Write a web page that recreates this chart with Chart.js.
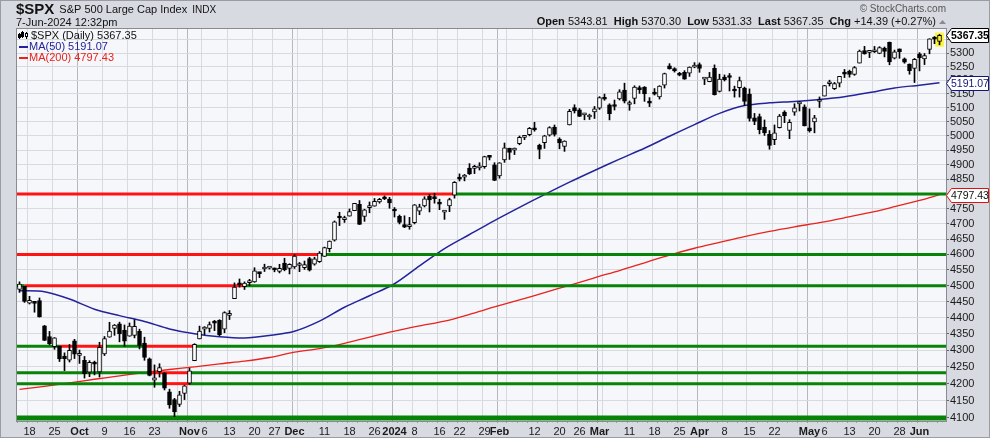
<!DOCTYPE html>
<html><head><meta charset="utf-8">
<script src="https://cdn.jsdelivr.net/npm/chart.js@4.4.1/dist/chart.umd.min.js"></script>
<style>html,body{margin:0;padding:0;background:#d8dae1;}canvas{display:block;}</style>
</head><body>
<canvas id="c" width="990" height="438"></canvas>
<script>
// ---------------- DATA ----------------
const dates = [
'2023-09-14','2023-09-15','2023-09-18','2023-09-19','2023-09-20','2023-09-21','2023-09-22','2023-09-25','2023-09-26','2023-09-27','2023-09-28','2023-09-29',
'2023-10-02','2023-10-03','2023-10-04','2023-10-05','2023-10-06','2023-10-09','2023-10-10','2023-10-11','2023-10-12','2023-10-13','2023-10-16','2023-10-17','2023-10-18','2023-10-19','2023-10-20','2023-10-23','2023-10-24','2023-10-25','2023-10-26','2023-10-27','2023-10-30','2023-10-31',
'2023-11-01','2023-11-02','2023-11-03','2023-11-06','2023-11-07','2023-11-08','2023-11-09','2023-11-10','2023-11-13','2023-11-14','2023-11-15','2023-11-16','2023-11-17','2023-11-20','2023-11-21','2023-11-22','2023-11-24','2023-11-27','2023-11-28','2023-11-29','2023-11-30',
'2023-12-01','2023-12-04','2023-12-05','2023-12-06','2023-12-07','2023-12-08','2023-12-11','2023-12-12','2023-12-13','2023-12-14','2023-12-15','2023-12-18','2023-12-19','2023-12-20','2023-12-21','2023-12-22','2023-12-26','2023-12-27','2023-12-28','2023-12-29',
'2024-01-02','2024-01-03','2024-01-04','2024-01-05','2024-01-08','2024-01-09','2024-01-10','2024-01-11','2024-01-12','2024-01-16','2024-01-17','2024-01-18','2024-01-19','2024-01-22','2024-01-23','2024-01-24','2024-01-25','2024-01-26','2024-01-29','2024-01-30','2024-01-31',
'2024-02-01','2024-02-02','2024-02-05','2024-02-06','2024-02-07','2024-02-08','2024-02-09','2024-02-12','2024-02-13','2024-02-14','2024-02-15','2024-02-16','2024-02-20','2024-02-21','2024-02-22','2024-02-23','2024-02-26','2024-02-27','2024-02-28','2024-02-29',
'2024-03-01','2024-03-04','2024-03-05','2024-03-06','2024-03-07','2024-03-08','2024-03-11','2024-03-12','2024-03-13','2024-03-14','2024-03-15','2024-03-18','2024-03-19','2024-03-20','2024-03-21','2024-03-22','2024-03-25','2024-03-26','2024-03-27','2024-03-28',
'2024-04-01','2024-04-02','2024-04-03','2024-04-04','2024-04-05','2024-04-08','2024-04-09','2024-04-10','2024-04-11','2024-04-12','2024-04-15','2024-04-16','2024-04-17','2024-04-18','2024-04-19','2024-04-22','2024-04-23','2024-04-24','2024-04-25','2024-04-26','2024-04-29','2024-04-30',
'2024-05-01','2024-05-02','2024-05-03','2024-05-06','2024-05-07','2024-05-08','2024-05-09','2024-05-10','2024-05-13','2024-05-14','2024-05-15','2024-05-16','2024-05-17','2024-05-20','2024-05-21','2024-05-22','2024-05-23','2024-05-24','2024-05-28','2024-05-29','2024-05-30','2024-05-31',
'2024-06-03','2024-06-04','2024-06-05','2024-06-06','2024-06-07'];

const opens = [
4487.78,4497.98,4445.13,4445.41,4452.81,4374.36,4341.74,4310.62,4312.88,4282.63,4269.65,4328.18,
4284.52,4269.75,4233.83,4259.31,4234.79,4289.02,4339.75,4366.59,4380.94,4360.49,4342.37,4345.23,4357.35,4321.36,4273.85,4210.40,4235.79,4232.42,4175.99,4152.93,4139.39,4171.33,
4201.27,4268.26,4334.23,4364.27,4366.21,4384.37,4391.41,4364.15,4406.66,4458.97,4505.30,4497.08,4509.55,4511.70,4538.77,4553.04,4555.84,4554.86,4545.55,4571.84,4554.87,
4559.43,4564.37,4557.25,4586.23,4568.84,4576.20,4593.39,4618.30,4646.20,4721.04,4714.23,4725.58,4743.72,4764.73,4724.29,4753.92,4758.86,4773.45,4786.44,4782.88,
4745.20,4725.07,4697.42,4690.57,4703.70,4741.93,4759.94,4792.13,4791.18,4772.35,4739.13,4760.10,4796.28,4853.42,4856.80,4888.56,4886.66,4888.91,4892.95,4925.89,4899.19,
4861.11,4916.06,4957.19,4950.16,4973.05,4995.16,5004.17,5026.83,4967.94,4976.44,5003.14,5031.13,4989.32,4963.03,5038.83,5100.92,5093.00,5074.60,5067.20,5085.36,
5098.51,5130.99,5110.52,5108.03,5132.38,5164.46,5111.96,5134.30,5173.49,5175.14,5123.31,5154.77,5139.09,5181.69,5253.43,5242.48,5219.52,5228.85,5226.31,5248.03,
5257.97,5204.29,5194.37,5244.05,5158.95,5211.37,5217.03,5167.88,5172.95,5171.51,5149.67,5064.59,5068.97,5031.52,5005.44,4987.33,5028.85,5084.86,5019.88,5084.65,5114.13,5103.78,
5029.03,5049.32,5122.78,5142.42,5187.20,5168.98,5189.03,5225.49,5233.08,5221.10,5263.26,5310.07,5303.10,5305.35,5298.69,5319.28,5340.26,5281.45,5315.91,5278.73,5259.77,5243.21,
5297.15,5278.24,5314.48,5357.80,5343.81];

const highs = [
4511.99,4497.98,4466.36,4449.85,4461.03,4375.70,4357.40,4338.51,4313.01,4292.07,4317.27,4333.15,
4300.58,4281.15,4268.50,4267.13,4324.10,4341.73,4385.46,4378.64,4385.85,4377.10,4383.33,4393.57,4364.20,4339.54,4276.56,4255.84,4259.38,4232.42,4183.60,4156.70,4177.47,4195.55,
4245.64,4319.72,4373.62,4372.21,4386.26,4391.20,4393.40,4418.03,4421.76,4508.67,4521.17,4511.99,4520.12,4557.11,4542.14,4568.43,4560.31,4556.26,4568.14,4587.64,4569.89,
4599.39,4574.06,4578.56,4590.74,4590.92,4609.23,4623.71,4643.93,4709.69,4738.57,4725.53,4749.52,4768.69,4778.01,4748.71,4772.94,4784.72,4785.39,4793.30,4788.43,
4754.33,4729.29,4726.78,4721.49,4764.54,4765.47,4790.80,4798.50,4802.40,4782.34,4744.23,4785.79,4842.07,4868.41,4866.48,4903.68,4898.15,4906.69,4929.31,4931.09,4906.75,
4906.97,4975.29,4957.19,4957.77,4999.89,5000.40,5030.06,5048.39,4971.30,5002.52,5032.72,5038.70,4993.71,4983.21,5094.39,5111.06,5097.66,5080.69,5077.37,5104.99,
5140.33,5149.67,5114.54,5127.97,5165.62,5189.26,5124.66,5179.87,5179.14,5176.85,5136.86,5169.70,5180.31,5226.19,5261.10,5246.09,5229.09,5235.16,5249.26,5264.85,
5263.95,5208.34,5228.75,5256.59,5222.18,5219.57,5224.81,5178.43,5211.78,5175.03,5168.43,5079.84,5077.96,5056.66,5019.02,5038.84,5076.12,5089.48,5057.75,5114.62,5123.49,5110.83,
5096.12,5073.21,5139.12,5181.00,5200.23,5191.95,5214.42,5239.66,5237.26,5250.37,5311.76,5325.49,5305.45,5325.32,5324.32,5323.18,5341.88,5311.65,5315.91,5282.26,5260.21,5280.33,
5302.11,5298.80,5354.16,5362.35,5370.30];

const lows = [
4478.69,4447.21,4442.11,4416.61,4401.38,4329.17,4316.49,4302.70,4265.98,4238.63,4264.38,4274.86,
4260.21,4216.45,4220.48,4225.91,4219.55,4283.79,4339.64,4345.34,4325.43,4311.97,4342.37,4337.54,4303.84,4269.69,4223.03,4189.22,4219.43,4181.42,4127.90,4103.78,4132.94,4153.12,
4197.74,4268.26,4334.23,4347.53,4355.41,4359.76,4343.94,4353.34,4393.82,4458.97,4495.31,4487.83,4499.66,4510.36,4525.51,4545.05,4552.80,4544.02,4540.51,4547.15,4537.24,
4554.71,4544.48,4551.68,4546.50,4565.22,4574.06,4593.39,4608.09,4643.23,4694.34,4704.69,4725.58,4743.72,4697.82,4708.35,4736.77,4758.45,4768.90,4780.98,4751.99,
4722.67,4699.71,4687.53,4682.11,4699.82,4730.35,4756.20,4739.58,4768.98,4747.12,4714.82,4740.57,4785.87,4844.05,4844.37,4865.94,4869.34,4881.47,4887.40,4916.27,4845.15,
4853.52,4907.99,4918.09,4934.88,4969.05,4987.09,5000.34,5016.83,4920.31,4956.45,4999.44,4999.52,4955.02,4946.00,5038.83,5081.46,5068.91,5057.29,5058.35,5061.89,
5094.16,5127.18,5056.82,5092.22,5128.21,5117.50,5091.14,5114.48,5151.88,5123.30,5104.35,5146.07,5131.59,5171.55,5240.66,5229.87,5216.09,5203.42,5213.92,5245.82,
5229.20,5184.05,5194.37,5146.06,5157.21,5197.35,5160.78,5138.70,5138.77,5107.94,5052.47,5039.83,5007.25,5001.89,4953.56,4969.40,5027.96,5047.02,4990.58,5073.14,5088.65,5035.31,
5013.45,5011.05,5101.22,5142.42,5178.96,5165.86,5175.48,5209.68,5211.16,5217.98,5263.26,5296.19,5283.59,5302.40,5297.87,5286.01,5256.93,5278.39,5280.89,5262.70,5222.10,5191.68,
5234.32,5257.63,5297.64,5335.36,5331.33];

const closes = [
4505.10,4450.32,4453.53,4443.95,4402.20,4330.00,4320.06,4337.44,4273.53,4274.51,4299.70,4288.05,
4288.39,4229.45,4263.75,4258.19,4308.50,4335.66,4358.24,4376.95,4349.61,4327.78,4373.63,4373.20,4314.60,4278.00,4224.16,4217.04,4247.68,4186.77,4137.23,4117.37,4166.82,4193.80,
4237.86,4317.78,4358.34,4365.98,4378.38,4382.78,4347.35,4415.24,4411.55,4495.70,4502.88,4508.24,4514.02,4547.38,4538.19,4556.62,4559.34,4550.43,4554.89,4550.58,4567.80,
4594.63,4569.78,4567.18,4549.34,4585.59,4604.37,4622.44,4643.70,4707.09,4719.55,4719.19,4740.56,4768.37,4698.35,4746.75,4754.63,4774.75,4781.58,4783.35,4769.83,
4742.83,4704.81,4688.68,4697.24,4763.54,4756.50,4783.45,4780.24,4783.83,4765.98,4739.21,4780.94,4839.81,4850.43,4864.60,4868.55,4894.16,4890.97,4927.93,4924.97,4845.65,
4906.19,4958.61,4942.81,4954.23,4995.06,4997.91,5026.61,5021.84,4953.17,5000.62,5029.73,5005.57,4975.51,4981.80,5087.03,5088.80,5069.53,5078.18,5069.76,5096.27,
5137.08,5130.95,5078.65,5104.76,5157.36,5123.69,5117.94,5175.27,5165.31,5150.48,5117.09,5149.42,5178.51,5224.62,5241.53,5234.18,5218.19,5203.58,5248.49,5254.35,
5243.77,5205.81,5211.49,5147.21,5204.34,5202.39,5209.91,5160.64,5199.06,5123.41,5061.82,5051.41,5022.21,5011.12,4967.23,5010.60,5070.55,5071.63,5048.42,5099.96,5116.17,5035.69,
5018.39,5064.20,5127.79,5180.74,5187.70,5187.67,5214.08,5222.68,5221.42,5246.68,5308.15,5297.10,5303.27,5308.13,5321.41,5307.01,5267.84,5304.72,5306.04,5266.95,5235.48,5277.51,
5283.40,5291.34,5354.03,5352.96,5367.35];

// moving averages (weekly readings)
const maDates = ['2023-09-14','2023-09-21','2023-09-28','2023-10-05','2023-10-12','2023-10-19','2023-10-26','2023-11-02','2023-11-09','2023-11-16','2023-11-24','2023-12-01','2023-12-08','2023-12-15','2023-12-22','2024-01-02','2024-01-09','2024-01-17','2024-01-24','2024-01-31','2024-02-07','2024-02-14','2024-02-22','2024-02-29','2024-03-07','2024-03-14','2024-03-21','2024-03-28','2024-04-05','2024-04-12','2024-04-19','2024-04-26','2024-05-03','2024-05-10','2024-05-17','2024-05-24','2024-06-03','2024-06-07'];
const ma50 = [4484,4481,4458,4426,4406,4388,4365,4350,4341,4337,4345,4358,4389,4432,4468,4506,4563,4619,4665,4711,4755,4798,4840,4880,4919,4957,4999,5040,5080,5108,5118,5123,5130,5140,5155,5172,5182,5191.07];
const ma200 = [4183,4192,4202,4213,4223,4233,4242,4250,4259,4267,4278,4294,4305,4321,4340,4358,4374,4389,4410,4433,4455,4478,4501,4525,4548,4573,4598,4620,4639,4658,4675,4690,4704,4720,4737,4757,4778,4797.43];

// support / resistance annotation lines
const srLevels = [4800, 4600, 4500, 4312, 4232, 4200, 4100];
const srFirstColor = ['red','red','green','green','green','green','green'];
const srFlipDates = [
  ['2024-01-19'],
  ['2023-12-08'],
  ['2023-09-15','2023-11-16'],
  ['2023-09-26','2023-10-09','2023-10-19','2023-11-02'],
  ['2023-10-20','2023-11-01'],
  ['2023-10-25','2023-11-01'],
  []];

// axis ticks
const yTicks = [4100,4150,4200,4250,4300,4350,4400,4450,4500,4550,4600,4650,4700,4750,4800,4850,4900,4950,5000,5050,5100,5150,5200,5250,5300,5350];
const xTickDates = ['2023-09-18','2023-09-25','2023-10-02','2023-10-09','2023-10-16','2023-10-23','2023-10-30','2023-11-01','2023-11-06','2023-11-13','2023-11-20','2023-11-27','2023-12-01','2023-12-04','2023-12-11','2023-12-18','2023-12-26','2024-01-02','2024-01-08','2024-01-16','2024-01-22','2024-01-29','2024-02-01','2024-02-05','2024-02-12','2024-02-20','2024-02-26','2024-03-01','2024-03-04','2024-03-11','2024-03-18','2024-03-25','2024-04-01','2024-04-08','2024-04-15','2024-04-22','2024-04-29','2024-05-01','2024-05-06','2024-05-13','2024-05-20','2024-05-28','2024-06-03'];
const xTickLabels = ['18','25','Oct','9','16','23','','Nov','6','13','20','27','Dec','','11','18','26','2024','8','16','22','29','Feb','','12','20','26','Mar','','11','18','25','Apr','8','15','22','','May','6','13','20','28','Jun'];

// ---------------- BUILD ----------------
const FONT = "'Liberation Sans', Arial, sans-serif";
const N = dates.length, LAST = N - 1;
const X_MIN = -0.5, X_MAX = N + 0.3;
const RED = '#ff1414', GREEN = '#078407', NAVY = '#23239b', MARED = '#e8221c';

const tickInfo = {};
xTickDates.forEach((d, k) => { tickInfo[dates.indexOf(d)] = xTickLabels[k]; });
const isMonth = l => l !== undefined && l !== '' && (isNaN(Number(l)) || l === '2024');

const datasets = [];
datasets.push({type:'line', data: maDates.map((d,k)=>({x:dates.indexOf(d), y:ma200[k]})), borderColor: MARED, borderWidth: 1.3, pointRadius: 0, tension: 0.3, order: 30});
datasets.push({type:'line', data: maDates.map((d,k)=>({x:dates.indexOf(d), y:ma50[k]})), borderColor: NAVY, borderWidth: 1.5, pointRadius: 0, tension: 0.3, order: 30});
srLevels.forEach((lvl, k) => {
  const b = [X_MIN, ...srFlipDates[k].map(d => dates.indexOf(d)), X_MAX];
  let col = srFirstColor[k];
  for (let s = 0; s < b.length - 1; s++) {
    datasets.push({type:'line', data:[{x:b[s], y:lvl},{x:b[s+1], y:lvl}], borderColor: col === 'red' ? RED : GREEN,
      borderWidth: lvl === 4100 ? 5 : 3, pointRadius: 0, borderCapStyle: 'butt', order: 20});
    col = col === 'red' ? 'green' : 'red';
  }
});
datasets.push({type:'bar', grouped:false, data:[{x:LAST, y:[lows[LAST]-6, highs[LAST]+6]}], backgroundColor:'#fbf43c', barThickness: 8, order: 6});
datasets.push({type:'bar', grouped:false, data: dates.map((d,i)=>({x:i, y:[lows[i], highs[i]]})), backgroundColor:'#000', barThickness: 1, order: 4});
datasets.push({type:'bar', grouped:false, data: dates.map((d,i)=>({x:i, y:[opens[i], closes[i]]})),
  backgroundColor: dates.map((d,i)=> i === LAST ? '#fbf43c' : (closes[i] < opens[i] ? '#000' : '#fff')),
  borderColor:'#000', borderWidth: 1, borderSkipped: false, barThickness: 4, minBarLength: 2, order: 2});

function fmt(v){ return v.toFixed(2); }

const deco = {
  id: 'deco',
  beforeDraw(chart) {
    const {ctx, chartArea: a} = chart;
    ctx.save();
    ctx.fillStyle = '#d8dae1'; ctx.fillRect(0, 0, chart.width, chart.height);
    ctx.fillStyle = '#f6f7fb'; ctx.fillRect(a.left, a.top, a.right - a.left, a.bottom - a.top);
    ctx.restore();
  },
  afterDraw(chart) {
    const {ctx, chartArea: a} = chart;
    const ys = chart.scales.y;
    ctx.save();
    ctx.strokeStyle = '#8a8a90'; ctx.lineWidth = 1;
    ctx.strokeRect(a.left - 0.5, a.top - 0.5, a.right - a.left + 1, a.bottom - a.top + 1);
    ctx.strokeStyle = '#9a9ca4';
    ctx.strokeRect(0.5, 0.5, chart.width - 1, chart.height - 1);

    ctx.textBaseline = 'alphabetic'; ctx.textAlign = 'left'; ctx.fillStyle = '#111';
    ctx.font = 'bold 15px ' + FONT; ctx.fillText('$SPX', 16, 14);
    let w = ctx.measureText('$SPX').width;
    ctx.font = '11px ' + FONT; ctx.fillText('S&P 500 Large Cap Index', 16 + w + 5, 13);
    let w2 = ctx.measureText('S&P 500 Large Cap Index').width;
    ctx.font = '10px ' + FONT; ctx.fillText('INDX', 16 + w + 5 + w2 + 5, 13);
    ctx.font = '11px ' + FONT; ctx.fillText('7-Jun-2024 12:32pm', 16, 26);

    ctx.textAlign = 'right'; ctx.fillStyle = '#555';
    ctx.font = '10px ' + FONT; ctx.fillText('\u00A9 StockCharts.com', 946, 12);

    const chg = closes[LAST] - closes[LAST-1];
    const pct = chg / closes[LAST-1] * 100;
    const parts = [['Open ', true], [fmt(opens[LAST]) + '  ', false], ['High ', true], [fmt(highs[LAST]) + '  ', false],
      ['Low ', true], [fmt(lows[LAST]) + '  ', false], ['Last ', true], [fmt(closes[LAST]) + '  ', false],
      ['Chg ', true], ['+' + fmt(chg) + ' (+' + pct.toFixed(2) + '%)', false]];
    let total = 0;
    parts.forEach(p => { ctx.font = (p[1] ? 'bold ' : '') + '11px ' + FONT; p.push(ctx.measureText(p[0]).width); total += p[2]; });
    let x = 936 - total;
    ctx.textAlign = 'left'; ctx.fillStyle = '#111';
    parts.forEach(p => { ctx.font = (p[1] ? 'bold ' : '') + '11px ' + FONT; ctx.fillText(p[0], x, 25); x += p[2]; });
    ctx.fillStyle = '#8a8a92';
    ctx.beginPath(); ctx.moveTo(939, 24); ctx.lineTo(946, 24); ctx.lineTo(942.5, 20); ctx.closePath(); ctx.fill();

    ctx.fillStyle = '#000';
    ctx.fillRect(19, 33, 1, 6); ctx.fillRect(18, 34, 3, 4);
    ctx.fillRect(22, 31, 1, 7); ctx.fillRect(21, 32, 3, 5);
    ctx.fillRect(26, 32, 1, 7); ctx.strokeStyle = '#000'; ctx.fillStyle = '#fff'; ctx.fillRect(25, 33, 3, 4); ctx.strokeRect(25.5, 33.5, 2, 3);
    ctx.fillStyle = '#111'; ctx.font = '11px ' + FONT; ctx.textBaseline = 'middle';
    ctx.fillText('$SPX (Daily) ' + fmt(closes[LAST]), 31, 35.5);
    ctx.fillStyle = NAVY; ctx.fillRect(19, 46, 9, 2);
    ctx.fillText('MA(50) ' + fmt(ma50[ma50.length-1]), 29, 47);
    ctx.fillStyle = MARED; ctx.fillRect(19, 57, 9, 2);
    ctx.fillText('MA(200) ' + fmt(ma200[ma200.length-1]), 29, 58);

    function tag(v, border, txtColor, bold) {
      const yc = Math.round(ys.getPixelForValue(v)) + 0.5;
      ctx.beginPath();
      ctx.moveTo(946.5, yc); ctx.lineTo(951.5, yc - 7); ctx.lineTo(988.5, yc - 7); ctx.lineTo(988.5, yc + 7); ctx.lineTo(951.5, yc + 7); ctx.closePath();
      ctx.fillStyle = '#fff'; ctx.fill();
      ctx.strokeStyle = border; ctx.lineWidth = 1; ctx.stroke();
      ctx.fillStyle = txtColor; ctx.font = (bold ? 'bold ' : '') + '10.5px ' + FONT;
      ctx.textAlign = 'left'; ctx.textBaseline = 'middle';
      ctx.fillText(fmt(v), 951, yc + 0.5);
    }
    tag(ma200[ma200.length-1], '#e01010', '#111', false);
    tag(ma50[ma50.length-1], '#14147a', '#14147a', false);
    tag(closes[LAST], '#000', '#000', true);
    ctx.restore();
  }
};

new Chart(document.getElementById('c'), {
  type: 'bar',
  data: { datasets },
  options: {
    responsive: false, animation: false, devicePixelRatio: 1,
    layout: { padding: { left: 17, top: 29, right: 0, bottom: 0 } },
    plugins: { legend: { display: false }, tooltip: { enabled: false }, title: { display: false } },
    scales: {
      x: {
        type: 'linear', min: X_MIN, max: X_MAX, offset: false,
        afterBuildTicks: s => { s.ticks = dates.map((d, i) => ({ value: i })); },
        afterFit: s => { s.height = 17; },
        border: { display: false },
        grid: {
          drawOnChartArea: true, drawTicks: true, tickLength: 2,
          color: c => { const l = tickInfo[c.tick && c.tick.value]; return l === undefined ? 'rgba(0,0,0,0)' : (isMonth(l) ? '#b6b7bf' : '#d9dae0'); },
          tickColor: c => (c.index % 2 === 0 ? '#9a9aa2' : '#c8c9cf')
        },
        ticks: {
          autoSkip: false, maxRotation: 0, minRotation: 0, padding: 2, color: '#1a1a1a',
          font: c => ({ family: FONT, size: 11, weight: isMonth(tickInfo[c.tick && c.tick.value]) ? 'bold' : 'normal' }),
          callback: v => (tickInfo[v] !== undefined ? tickInfo[v] : '')
        }
      },
      y: {
        type: 'logarithmic', position: 'right', min: 4091, max: 5391, beginAtZero: false,
        afterBuildTicks: s => { s.ticks = yTicks.map(v => ({ value: v })); },
        afterFit: s => { s.width = 44; },
        border: { display: false },
        grid: { color: '#d9dae0', drawTicks: true, tickLength: 3, tickColor: '#666' },
        ticks: { autoSkip: false, padding: 1, color: '#1a1a1a', font: { family: FONT, size: 11 }, callback: v => String(v) }
      }
    }
  },
  plugins: [deco]
});
</script>
</body></html>
